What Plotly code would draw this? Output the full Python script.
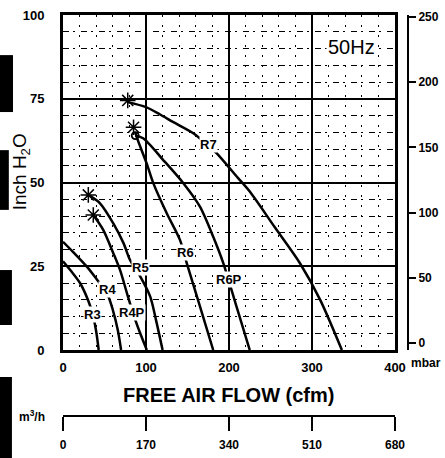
import plotly.graph_objects as go

# blower curves: free air flow (cfm) vs pressure (inch H2O)
r3_cfm = [0, 10, 20.5, 30, 36, 40, 43]
r3_inh2o = [26.5, 23.5, 20, 15, 10.5, 5.5, 0]
r4_cfm = [0, 12, 29, 41, 53, 60, 66, 70]
r4_inh2o = [32.3, 29.3, 24.8, 21, 17, 12, 6, 0]
r4p_cfm = [36.5, 48.6, 60.6, 68.7, 77, 85, 93, 101]
r4p_inh2o = [40.3, 35.8, 28.9, 23.9, 17, 10.5, 5, 0]
r5_cfm = [30.5, 44.6, 60.6, 72.9, 80.7, 93, 105, 112, 120]
r5_inh2o = [46.3, 43.8, 37.8, 31.9, 26.9, 22, 16, 9, 0]
r6_cfm = [87, 90, 100.8, 108.8, 125, 141, 149, 165, 181]
r6_inh2o = [65, 62.7, 55.7, 49.8, 40.8, 32.8, 26, 13, 0]
r6p_cfm = [87, 96.6, 120.8, 145, 165, 181, 193, 209, 225]
r6p_inh2o = [64, 63.2, 56.7, 49.8, 42.8, 33.8, 26, 13, 0]
r7_cfm = [78, 100, 117, 133, 157, 175, 185, 211, 225, 255, 285.5, 310, 336]
r7_inh2o = [74, 72.5, 70.3, 68, 64.7, 61, 58.8, 51.3, 47.3, 36.7, 25.9, 14.9, 0]

# max pressure markers
star_cfm = [78, 85, 30.5, 36.5]
star_inh2o = [74.5, 66.5, 46.3, 40.3]

# curve labels
label_text = ["R3", "R4", "R4P", "R5", "R6", "R6P", "R7"]
label_cfm = [36, 54, 83, 93, 147, 200, 175]
label_inh2o = [10.5, 18, 11.3, 24.5, 29, 21, 61.3]

# axis ticks
inh2o_ticks = [0, 25, 50, 75, 100]
cfm_ticks = [0, 100, 200, 300, 400]
mbar_ticks = [0, 50, 100, 150, 200, 250]
m3h_ticks = [0, 170, 340, 510, 680]

FONT = "Liberation Sans"
curves = [(r3_cfm, r3_inh2o), (r4_cfm, r4_inh2o), (r4p_cfm, r4p_inh2o), (r5_cfm, r5_inh2o),
          (r6_cfm, r6_inh2o), (r6p_cfm, r6p_inh2o), (r7_cfm, r7_inh2o)]


def bold(vals):
    return ["<b>%d</b>" % v for v in vals]


fig = go.Figure()
for xs, ys in curves:
    fig.add_trace(go.Scatter(x=xs, y=ys, mode="lines", line=dict(color="black", width=2.5, shape="spline", smoothing=0.8),
                             showlegend=False, hoverinfo="skip"))

fig.add_trace(go.Scatter(x=star_cfm, y=star_inh2o, mode="markers",
                         marker=dict(symbol="asterisk-open", size=13, color="black",
                                     line=dict(color="black", width=1.5)),
                         showlegend=False, hoverinfo="skip"))
fig.add_trace(go.Scatter(x=[87], y=[64], mode="markers",
                         marker=dict(symbol="circle-open", size=7, color="black",
                                     line=dict(color="black", width=1.8)),
                         showlegend=False, hoverinfo="skip"))

# dummy trace so the secondary (mbar / m3/h) axes are drawn
fig.add_trace(go.Scatter(x=[0], y=[0], xaxis="x2", yaxis="y2", mode="markers", opacity=0,
                         showlegend=False, hoverinfo="skip"))

for t, x, y in zip(label_text, label_cfm, label_inh2o):
    fig.add_annotation(x=x, y=y, text="<b>%s</b>" % t, showarrow=False, bgcolor="white", borderpad=0,
                       font=dict(family=FONT, size=13, color="black"))

fig.add_annotation(x=347, y=90.4, text="50Hz", showarrow=False, bgcolor="white",
                   font=dict(family=FONT, size=20, color="black"))


def paper_text(x, y, text, size, angle=0):
    fig.add_annotation(xref="paper", yref="paper", x=x, y=y, text=text, textangle=angle,
                       xanchor="center", yanchor="middle", showarrow=False,
                       font=dict(family=FONT, size=size, color="black"))


paper_text(-0.122, 0.61, "Inch H<sub>2</sub>O", 19, -90)
paper_text(0.481, 0.052, "<b>FREE AIR FLOW (cfm)</b>", 20)
paper_text(1.052, 0.132, "<b>mbar</b>", 12)
paper_text(-0.09, 0.0, "<b>m<sup>3</sup>/h</b>", 12)

# scanner smudges down the left edge
for y0, y1, x1 in [(0.758, 0.900, -0.145), (0.514, 0.663, -0.157), (0.227, 0.364, -0.148), (-0.105, 0.097, -0.148)]:
    fig.add_shape(type="rect", xref="paper", yref="paper", x0=-0.19, x1=x1, y0=y0, y1=y1,
                  fillcolor="black", line=dict(width=0), layer="above")

tickfont = dict(family=FONT, size=13, color="black")
fig.update_layout(
    width=445, height=458,
    margin=dict(l=63, r=37, t=15, b=42, autoexpand=False),
    paper_bgcolor="white", plot_bgcolor="white",
    xaxis=dict(domain=[0, 0.9623], range=[0, 400], tickvals=cfm_ticks, ticktext=bold(cfm_ticks),
               showgrid=True, gridcolor="black", automargin=False,
               gridwidth=2, zeroline=False, showline=True, mirror=True, linecolor="black", linewidth=3,
               ticks="", tickfont=tickfont, ticklabelstandoff=3,
               minor=dict(dtick=20, showgrid=True, gridcolor="black", gridwidth=1, griddash="2px,8px")),
    yaxis=dict(domain=[0.1646, 1], range=[0, 100], tickvals=inh2o_ticks, ticktext=bold(inh2o_ticks),
               showgrid=True, gridcolor="black", automargin=False,
               gridwidth=2, zeroline=False, showline=True, mirror=True, linecolor="black", linewidth=3,
               ticks="", tickfont=tickfont, ticklabelstandoff=13,
               minor=dict(dtick=5, showgrid=True, gridcolor="black", gridwidth=1, griddash="6px,4px,2px,6px")),
    yaxis2=dict(overlaying="y", side="right", anchor="free", position=1, range=[-5.4, 251.5],
                tickvals=mbar_ticks, ticktext=bold(mbar_ticks), automargin=False,
                showgrid=False, zeroline=False, showline=True, linecolor="black",
                linewidth=2, ticks="outside", ticklen=7, tickwidth=2, tickcolor="black",
                tickfont=dict(family=FONT, size=12, color="black")),
    xaxis2=dict(overlaying="x", side="bottom", anchor="free", position=0, range=[0, 680],
                tickvals=m3h_ticks, ticktext=bold(m3h_ticks), automargin=False,
                showgrid=False, zeroline=False, showline=True, linecolor="black",
                linewidth=2, ticks="outside", ticklen=14, tickwidth=2, tickcolor="black",
                ticklabelstandoff=4, tickfont=dict(family=FONT, size=12, color="black")),
)

# the page's default body margin would shift the chart by 8px
fig.write_html("out.html", config={"displayModeBar": False},
               post_script="document.body.style.margin='0';")
